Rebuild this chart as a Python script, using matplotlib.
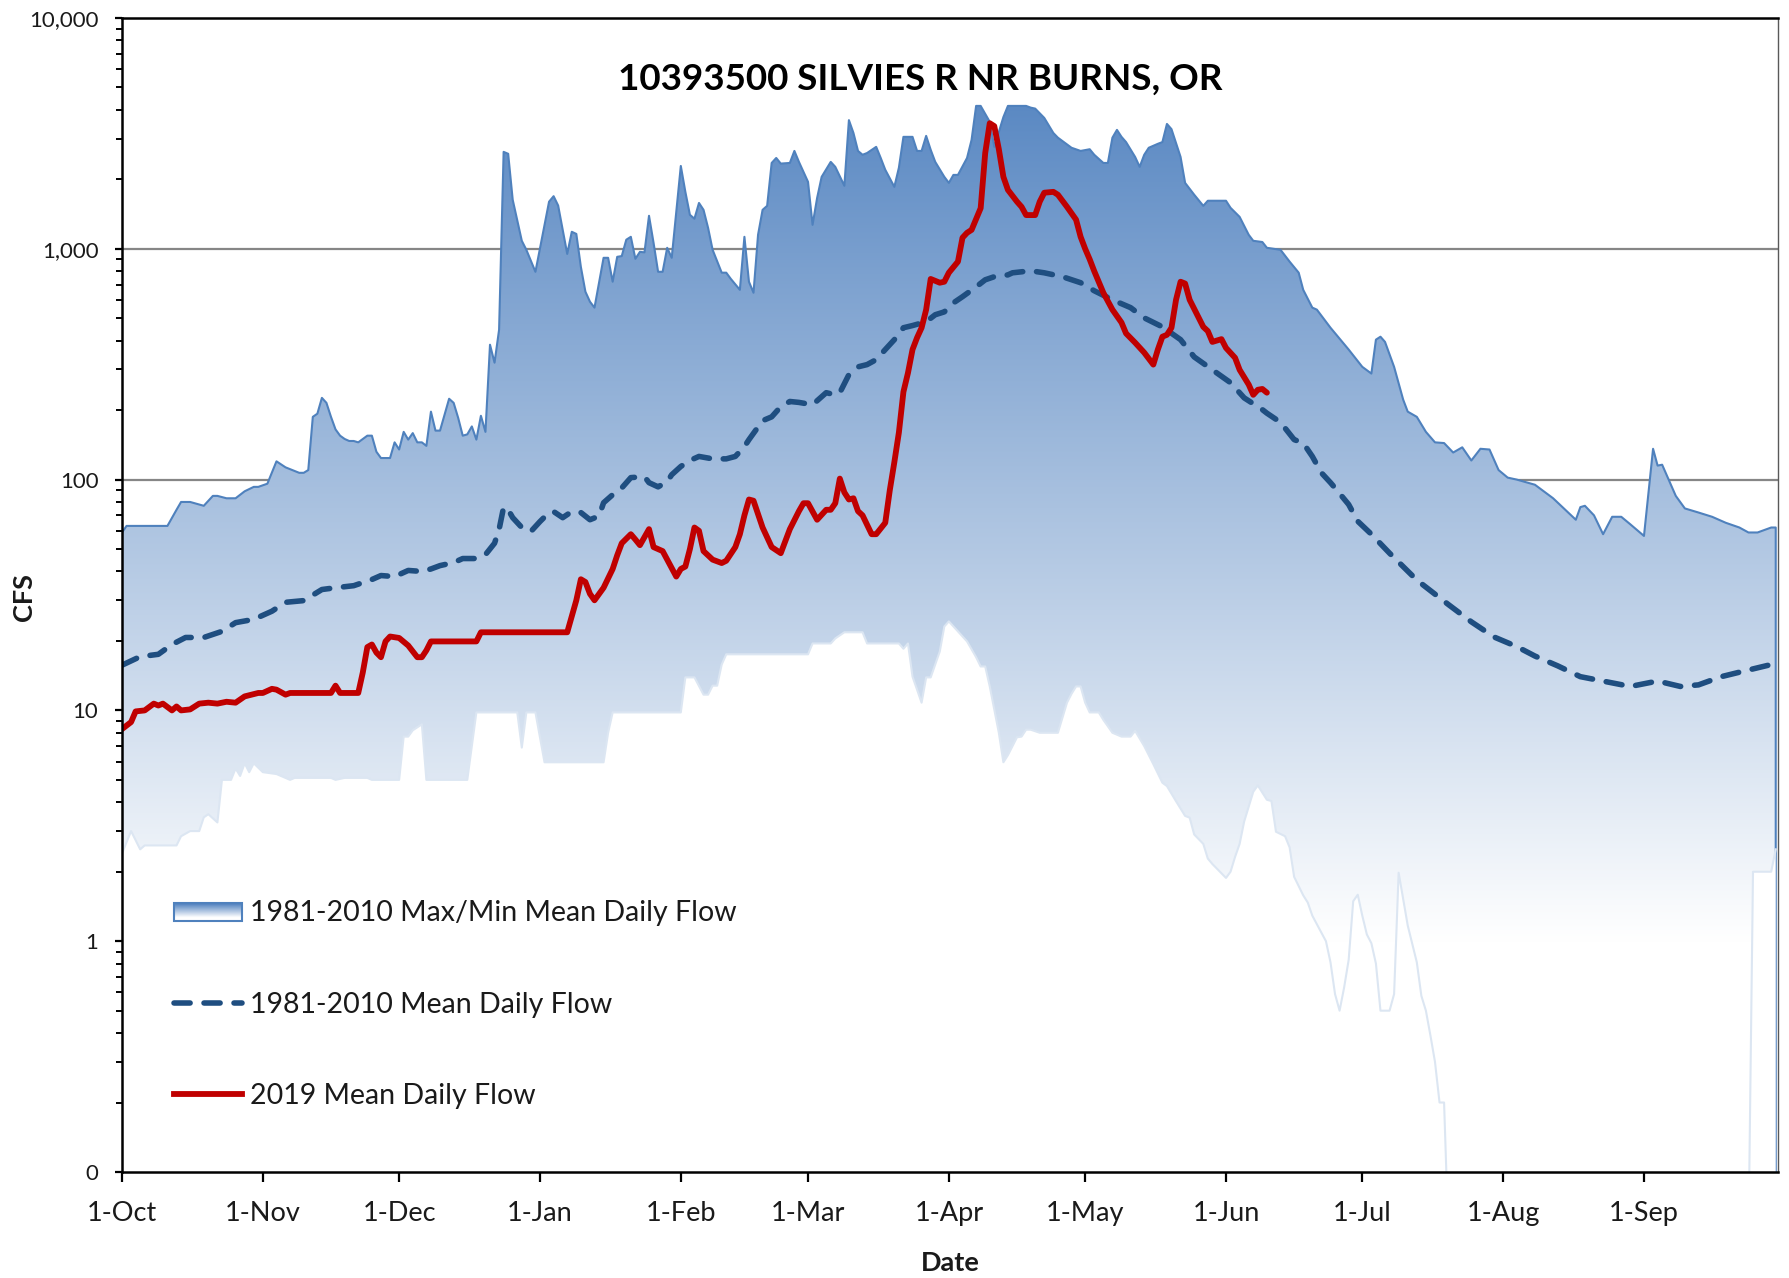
import numpy as np
import matplotlib
matplotlib.use("Agg")
import matplotlib.pyplot as plt
from matplotlib.colors import to_rgb
from matplotlib.patches import Rectangle
from matplotlib.lines import Line2D
from matplotlib.ticker import FixedLocator, FixedFormatter, LogLocator, NullFormatter

plt.rcParams['font.family'] = ['Lato', 'DejaVu Sans']

# water year axis: day 0 = 1 Oct
month_days = [0, 31, 61, 92, 123, 151, 182, 212, 243, 273, 304, 335]
month_labels = ['1-Oct', '1-Nov', '1-Dec', '1-Jan', '1-Feb', '1-Mar',
                '1-Apr', '1-May', '1-Jun', '1-Jul', '1-Aug', '1-Sep']
ytick_vals = [0.1, 1, 10, 100, 1000, 10000]
ytick_labels = ['0', '1', '10', '100', '1,000', '10,000']
grid_vals = [100, 1000]

# (day, cfs) - 1981-2010 max of mean daily flow
max_flow = [(0, 59), (1, 63), (10, 63), (12, 74), (13, 80), (15, 80), (18, 77), (20, 85),
            (21, 85), (23, 83), (25, 83), (27, 89), (29, 93), (30, 93), (32, 96), (34, 120),
            (36, 113), (39, 107), (40, 107), (41, 110), (42, 187), (43, 193), (44, 226),
            (45, 215), (46, 187), (47, 165), (48, 155), (49, 150), (50, 147), (51, 147),
            (52, 145), (54, 155), (55, 155), (56, 132), (57, 124), (59, 124), (60, 145),
            (61, 135), (62, 161), (63, 149), (64, 159), (65, 145), (66, 145), (67, 140),
            (68, 197), (69, 163), (70, 163), (72, 224), (73, 215), (74, 185), (75, 155),
            (76, 157), (77, 170), (78, 149), (79, 189), (80, 161), (81, 384), (82, 321),
            (83, 446), (84, 2630), (85, 2580), (86, 1630), (88, 1083), (89, 990), (90, 888),
            (91, 795), (94, 1600), (95, 1690), (96, 1540), (98, 950), (99, 1185), (100, 1160),
            (101, 835), (102, 652), (103, 590), (104, 556), (106, 914), (107, 914), (108, 720),
            (109, 923), (110, 930), (111, 1095), (112, 1127), (113, 905), (114, 970),
            (115, 965), (116, 1390), (117, 1062), (118, 795), (119, 795), (120, 1010),
            (121, 914), (123, 2285), (124, 1765), (125, 1404), (126, 1350), (127, 1580),
            (128, 1475), (129, 1233), (130, 990), (132, 788), (133, 788), (134, 741),
            (136, 664), (137, 1127), (138, 720), (139, 645), (140, 1150), (141, 1475),
            (142, 1535), (143, 2355), (144, 2475), (145, 2340), (147, 2355), (148, 2655),
            (149, 2380), (151, 1950), (152, 1270), (153, 1660), (154, 2050), (156, 2380),
            (157, 2265), (159, 1875), (160, 3610), (161, 3175), (162, 2655), (163, 2555),
            (164, 2600), (166, 2765), (167, 2475), (168, 2200), (170, 1855), (171, 2245),
            (172, 3055), (174, 3055), (175, 2655), (176, 2655), (177, 3085), (178, 2685),
            (179, 2380), (181, 2050), (182, 1930), (183, 2090), (184, 2090), (186, 2475),
            (187, 2965), (188, 4160), (189, 4160), (191, 3550), (192, 2765), (194, 3720),
            (195, 4160), (199, 4160), (200, 4090), (201, 4050), (203, 3690), (205, 3175),
            (206, 3030), (209, 2740), (211, 2655), (213, 2700), (214, 2555), (216, 2355),
            (217, 2355), (218, 3030), (219, 3275), (220, 3055), (221, 2900), (223, 2500),
            (224, 2265), (225, 2555), (226, 2740), (228, 2850), (229, 2900), (230, 3475),
            (231, 3300), (233, 2500), (234, 1930), (236, 1715), (238, 1535), (239, 1615),
            (243, 1615), (244, 1505), (246, 1375), (248, 1150), (249, 1083), (251, 1070),
            (252, 1010), (255, 990), (257, 880), (259, 788), (260, 664), (262, 556),
            (263, 545), (266, 455), (270, 366), (273, 308), (275, 288), (276, 404),
            (277, 416), (278, 395), (280, 308), (282, 222), (283, 197), (285, 187),
            (287, 161), (289, 145), (291, 144), (293, 131), (295, 138), (297, 121),
            (299, 136), (301, 135), (303, 110), (305, 102), (307, 100), (311, 95), (315, 83),
            (318, 73), (320, 67), (321, 76), (322, 77), (324, 70), (326, 58), (328, 69),
            (330, 69), (332, 64), (335, 57), (337, 136), (338, 115), (339, 116), (342, 85),
            (344, 75), (347, 72), (350, 69), (353, 65), (356, 62), (358, 59), (360, 59),
            (363, 62), (364, 62)]

# (day, cfs) - 1981-2010 min of mean daily flow (0 = no flow)
min_flow = [(0, 2.4), (2, 3.0), (4, 2.5), (5, 2.6), (12, 2.6), (13, 2.85), (15, 3.0), (17, 3.0),
            (18, 3.44), (19, 3.55), (21, 3.27), (22, 5.0), (24, 5.0), (25, 5.6), (26, 5.2),
            (27, 5.9), (28, 5.4), (29, 5.9), (31, 5.4), (34, 5.3), (37, 5.0), (38, 5.1),
            (46, 5.1), (47, 5.0), (49, 5.1), (54, 5.1), (55, 5.0), (61, 5.0), (62, 7.7),
            (63, 7.7), (64, 8.2), (66, 8.7), (67, 5.0), (76, 5.0), (78, 9.8), (87, 9.8),
            (88, 6.9), (89, 9.8), (91, 9.8), (93, 5.96), (106, 5.96), (107, 8.0), (108, 9.8),
            (123, 9.8), (124, 13.9), (126, 13.9), (128, 11.7), (129, 11.7), (130, 12.8),
            (131, 12.8), (132, 15.8), (133, 17.5), (151, 17.5), (152, 19.5), (156, 19.5),
            (157, 20.5), (159, 21.8), (163, 21.8), (164, 19.5), (171, 19.5), (172, 18.5),
            (173, 19.5), (174, 14.0), (176, 10.8), (177, 13.9), (178, 13.9), (180, 18.0),
            (181, 23.1), (182, 24.3), (184, 22.0), (186, 19.9), (188, 17.0), (189, 15.5),
            (190, 15.5), (191, 12.7), (193, 8.0), (194, 5.96), (195, 6.4), (197, 7.65),
            (198, 7.7), (199, 8.25), (200, 8.25), (202, 8.0), (206, 8.0), (207, 9.3),
            (208, 10.8), (209, 11.8), (210, 12.7), (211, 12.7), (212, 10.8), (213, 9.8),
            (215, 9.8), (216, 9.1), (218, 8.0), (220, 7.7), (222, 7.7), (223, 8.15),
            (225, 7.0), (227, 5.85), (229, 4.86), (230, 4.7), (232, 4.04), (234, 3.49),
            (235, 3.43), (236, 2.9), (238, 2.64), (239, 2.28), (240, 2.16), (242, 1.97),
            (243, 1.88), (244, 2.0), (245, 2.32), (246, 2.64), (247, 3.3), (249, 4.44),
            (250, 4.73), (251, 4.4), (252, 4.1), (253, 4.05), (254, 2.98), (256, 2.85),
            (257, 2.55), (258, 1.9), (260, 1.58), (261, 1.47), (262, 1.29), (264, 1.09),
            (265, 1.0), (266, 0.81), (267, 0.59), (268, 0.5), (269, 0.63), (270, 0.83),
            (271, 1.49), (272, 1.59), (273, 1.29), (274, 1.07), (275, 0.98), (276, 0.8),
            (277, 0.5), (279, 0.5), (280, 0.59), (281, 1.98), (282, 1.52), (283, 1.17),
            (285, 0.81), (286, 0.58), (287, 0.5), (288, 0.39), (289, 0.3), (290, 0.2),
            (291, 0.2), (292, 0), (358, 0), (359, 2.0), (363, 2.0), (364, 2.5)]

# (day, cfs) - 1981-2010 mean daily flow
mean_flow = [(0, 15.7), (4, 17.1), (8, 17.5), (11, 19.3), (14, 20.7), (18, 20.7), (22, 22),
             (25, 24), (29, 24.8), (33, 26.9), (36, 29.4), (40, 29.9), (44, 33.4), (47, 34),
             (51, 34.7), (55, 36.9), (57, 38.4), (60, 38), (63, 40.4), (66, 40), (68, 41),
             (70, 42.4), (73, 43.7), (75, 45.5), (78, 45.5), (80, 47.3), (82, 53), (83, 60.8),
             (84, 76), (85, 74), (86, 68.4), (88, 62), (90, 59.6), (92, 65.8), (94, 72),
             (95, 72.7), (97, 68.4), (99, 72.7), (101, 72), (103, 67), (105, 69.5), (106, 79.4),
             (108, 86), (110, 92), (112, 102), (115, 103), (116, 97), (118, 93), (120, 98),
             (121, 105), (123, 114), (125, 121), (127, 126), (130, 123), (133, 123),
             (135, 126), (137, 139), (138, 149), (140, 169), (141, 180), (143, 187),
             (145, 207), (147, 218), (149, 216), (152, 211), (155, 238), (157, 233),
             (158, 238), (160, 285), (162, 308), (164, 315), (166, 331), (168, 366),
             (170, 404), (172, 455), (174, 465), (177, 483), (179, 518), (181, 533),
             (183, 583), (185, 620), (188, 684), (190, 734), (192, 757), (195, 771),
             (196, 787), (200, 803), (203, 787), (207, 757), (211, 713), (214, 658),
             (218, 601), (222, 556), (225, 502), (229, 459), (233, 404), (236, 340),
             (240, 299), (244, 263), (247, 226), (251, 201), (252, 194), (255, 177),
             (258, 149), (260, 144), (262, 126), (264, 107), (266, 97), (267, 92), (270, 78),
             (272, 66), (275, 58), (279, 48), (285, 36.7), (292, 28.7), (297, 24.2),
             (302, 20.8), (307, 18.9), (311, 17.2), (316, 15.6), (321, 14), (326, 13.4),
             (332, 12.7), (338, 13.4), (343, 12.7), (347, 12.9), (352, 14), (357, 14.8),
             (363, 15.8), (364, 16)]

# (day, cfs) - water year 2019 mean daily flow
flow_2019 = [(0, 8.3), (2, 8.9), (3, 9.9), (5, 10), (7, 10.7), (8, 10.5), (9, 10.7), (11, 10),
             (12, 10.4), (13, 10), (15, 10.1), (17, 10.7), (19, 10.8), (21, 10.7), (23, 10.9),
             (25, 10.8), (27, 11.5), (30, 11.9), (31, 11.9), (33, 12.4), (34, 12.3), (36, 11.7),
             (37, 11.9), (46, 11.9), (47, 12.8), (48, 11.9), (52, 11.9), (53, 14.6), (54, 18.8),
             (55, 19.3), (56, 17.8), (57, 17), (58, 19.9), (59, 20.9), (61, 20.6), (63, 19.1),
             (65, 17), (66, 17), (67, 18.2), (68, 19.9), (78, 19.9), (79, 21.8), (98, 21.8),
             (100, 30), (101, 37), (102, 36), (103, 32), (104, 30), (106, 34), (108, 41),
             (109, 47), (110, 53), (112, 58), (113, 55), (114, 52), (116, 61), (117, 51),
             (119, 49), (120, 45), (122, 38), (123, 41), (124, 42), (125, 50), (126, 62),
             (127, 60), (128, 49), (130, 45), (132, 43.5), (133, 44.5), (135, 51), (136, 58),
             (137, 70), (138, 82), (139, 81), (141, 62), (143, 51), (145, 48), (147, 61),
             (149, 73), (150, 79), (151, 79), (153, 67), (155, 74), (156, 74), (157, 79),
             (158, 101), (159, 88), (160, 82), (161, 83), (162, 73), (163, 70), (165, 58),
             (166, 58), (168, 65), (169, 90), (170, 119), (171, 160), (172, 240), (173, 290),
             (174, 366), (175, 412), (176, 455), (177, 545), (178, 740), (180, 713),
             (181, 720), (182, 788), (184, 880), (185, 1117), (186, 1173), (187, 1208),
             (189, 1500), (190, 2600), (191, 3500), (192, 3400), (193, 2700), (194, 2050),
             (195, 1800), (197, 1600), (198, 1520), (199, 1400), (201, 1400), (202, 1600),
             (203, 1750), (205, 1765), (206, 1715), (208, 1520), (210, 1337), (211, 1127),
             (212, 1000), (213, 900), (214, 800), (216, 645), (218, 545), (220, 479),
             (221, 430), (223, 392), (225, 355), (227, 315), (228, 366), (229, 416),
             (230, 424), (231, 455), (232, 601), (233, 720), (234, 707), (235, 601),
             (238, 459), (239, 440), (240, 395), (242, 406), (243, 372), (245, 337),
             (246, 299), (248, 258), (249, 233), (250, 245), (251, 247), (252, 238)]


def unzip(pairs):
    d, v = zip(*pairs)
    return np.array(d, float), np.array(v, float)


def blue_gradient(n, white_at=0.8, top='#4A7DBD'):
    # rows bottom -> top; dark blue at the top fading to white
    f = np.linspace(0, 1, n)
    w = np.clip((1 - f) / white_at, 0, 1)[:, None]
    c = np.array(to_rgb(top))
    return (c * (1 - w) + w)[:, None, :]


d_max, v_max = unzip(max_flow)
d_min, v_min = unzip(min_flow)
d_mean, v_mean = unzip(mean_flow)
d_19, v_19 = unzip(flow_2019)
floor = 0.05
v_min = np.maximum(v_min, floor)

mean_style = dict(color='#1F4E80', lw=4.0, ls=(0, (2.9, 2.5)), dash_capstyle='round')
red_style = dict(color='#C00000', lw=4.2)

fig = plt.figure(figsize=(17.9, 12.78), dpi=100)
ax = fig.add_axes([122 / 1790, 1 - 1172 / 1278, 1656 / 1790, 1154 / 1278])
ax.set_yscale('log')

for g in grid_vals:
    ax.axhline(g, color='#868686', lw=1.6, zorder=1)

# max area with gradient fill
area = ax.fill_between(d_max, 0.1, v_max, facecolor='none', edgecolor='none', zorder=2)
im = ax.imshow(blue_gradient(600), extent=(0, 1, 0, 1), transform=ax.transAxes,
               origin='lower', aspect='auto', interpolation='bilinear', zorder=2)
im.set_clip_path(area.get_paths()[0], transform=ax.transData)
ax.plot(np.r_[d_max[0], d_max, d_max[-1]], np.r_[floor, v_max, floor],
        color='#4F81BD', lw=1.5, zorder=2.5)

# min area blanks out the band below
ax.fill_between(d_min, floor, v_min, facecolor='white', edgecolor='none', zorder=3)
ax.plot(d_min, v_min, color='#DCE6F2', lw=1.5, zorder=3.5)

ax.plot(d_mean, v_mean, zorder=4, **mean_style)
ax.plot(d_19, v_19, solid_joinstyle='round', solid_capstyle='round', zorder=5, **red_style)

ax.text(0.482, 0.9376, '10393500 SILVIES R NR BURNS, OR', transform=ax.transAxes,
        ha='center', va='baseline', fontsize=26.5, fontweight='bold', color='black')

# legend drawn by hand
lx0, lx1 = 0.0311, 0.0725
ly0, ly1 = 0.2175, 0.2327
ax.imshow(blue_gradient(100), extent=(lx0, lx1, ly0, ly1), transform=ax.transAxes,
          origin='lower', aspect='auto', interpolation='bilinear', zorder=6)
ax.add_patch(Rectangle((lx0, ly0), lx1 - lx0, ly1 - ly0, transform=ax.transAxes,
                       fill=False, edgecolor='#4F81BD', lw=1.5, zorder=7))
ax.add_line(Line2D([lx0, lx1], [0.1462, 0.1462], transform=ax.transAxes, zorder=7,
                   **mean_style))
ax.add_line(Line2D([lx0, lx1], [0.0672, 0.0672], transform=ax.transAxes, zorder=7,
                   **red_style))
legend_labels = ['1981-2010 Max/Min Mean Daily Flow', '1981-2010 Mean Daily Flow',
                 '2019 Mean Daily Flow']
for lab, yb in zip(legend_labels, [0.2175, 0.1381, 0.0593]):
    ax.text(0.0773, yb, lab, transform=ax.transAxes, ha='left', va='baseline',
            fontsize=20.5, color='#1a1a1a', zorder=7)

ax.set_xlim(0, 364.5)
ax.set_ylim(0.1, 10000)

ax.xaxis.set_major_locator(FixedLocator(month_days))
ax.xaxis.set_major_formatter(FixedFormatter(month_labels))
ax.yaxis.set_major_locator(FixedLocator(ytick_vals))
ax.yaxis.set_major_formatter(FixedFormatter(ytick_labels))
ax.yaxis.set_minor_locator(LogLocator(base=10, subs=np.arange(2, 10)))
ax.yaxis.set_minor_formatter(NullFormatter())
ax.tick_params(axis='x', which='major', direction='out', length=7, width=1.6,
               labelsize=19.5, pad=14, colors='black', labelcolor='#1a1a1a')
ax.tick_params(axis='y', which='major', direction='out', length=5, width=1.6,
               labelsize=16, pad=12, colors='black', labelcolor='#1a1a1a')
ax.tick_params(axis='y', which='minor', direction='out', length=4, width=1.4)

for side in ['left', 'bottom', 'top']:
    ax.spines[side].set_color('black')
    ax.spines[side].set_linewidth(1.8)
ax.spines['right'].set_color('#595959')
ax.spines['right'].set_linewidth(1.0)
for s in ax.spines.values():
    s.set_zorder(8)

fig.text(950 / 1790, 1 - 1271 / 1278, 'Date', ha='center', va='baseline',
         fontsize=19.5, fontweight='bold', color='#1a1a1a')
fig.text(24 / 1790, 1 - 597 / 1278, 'CFS', ha='center', va='center', rotation=90,
         fontsize=19.5, fontweight='bold', color='#1a1a1a')

fig.savefig('out.png', dpi=100)
